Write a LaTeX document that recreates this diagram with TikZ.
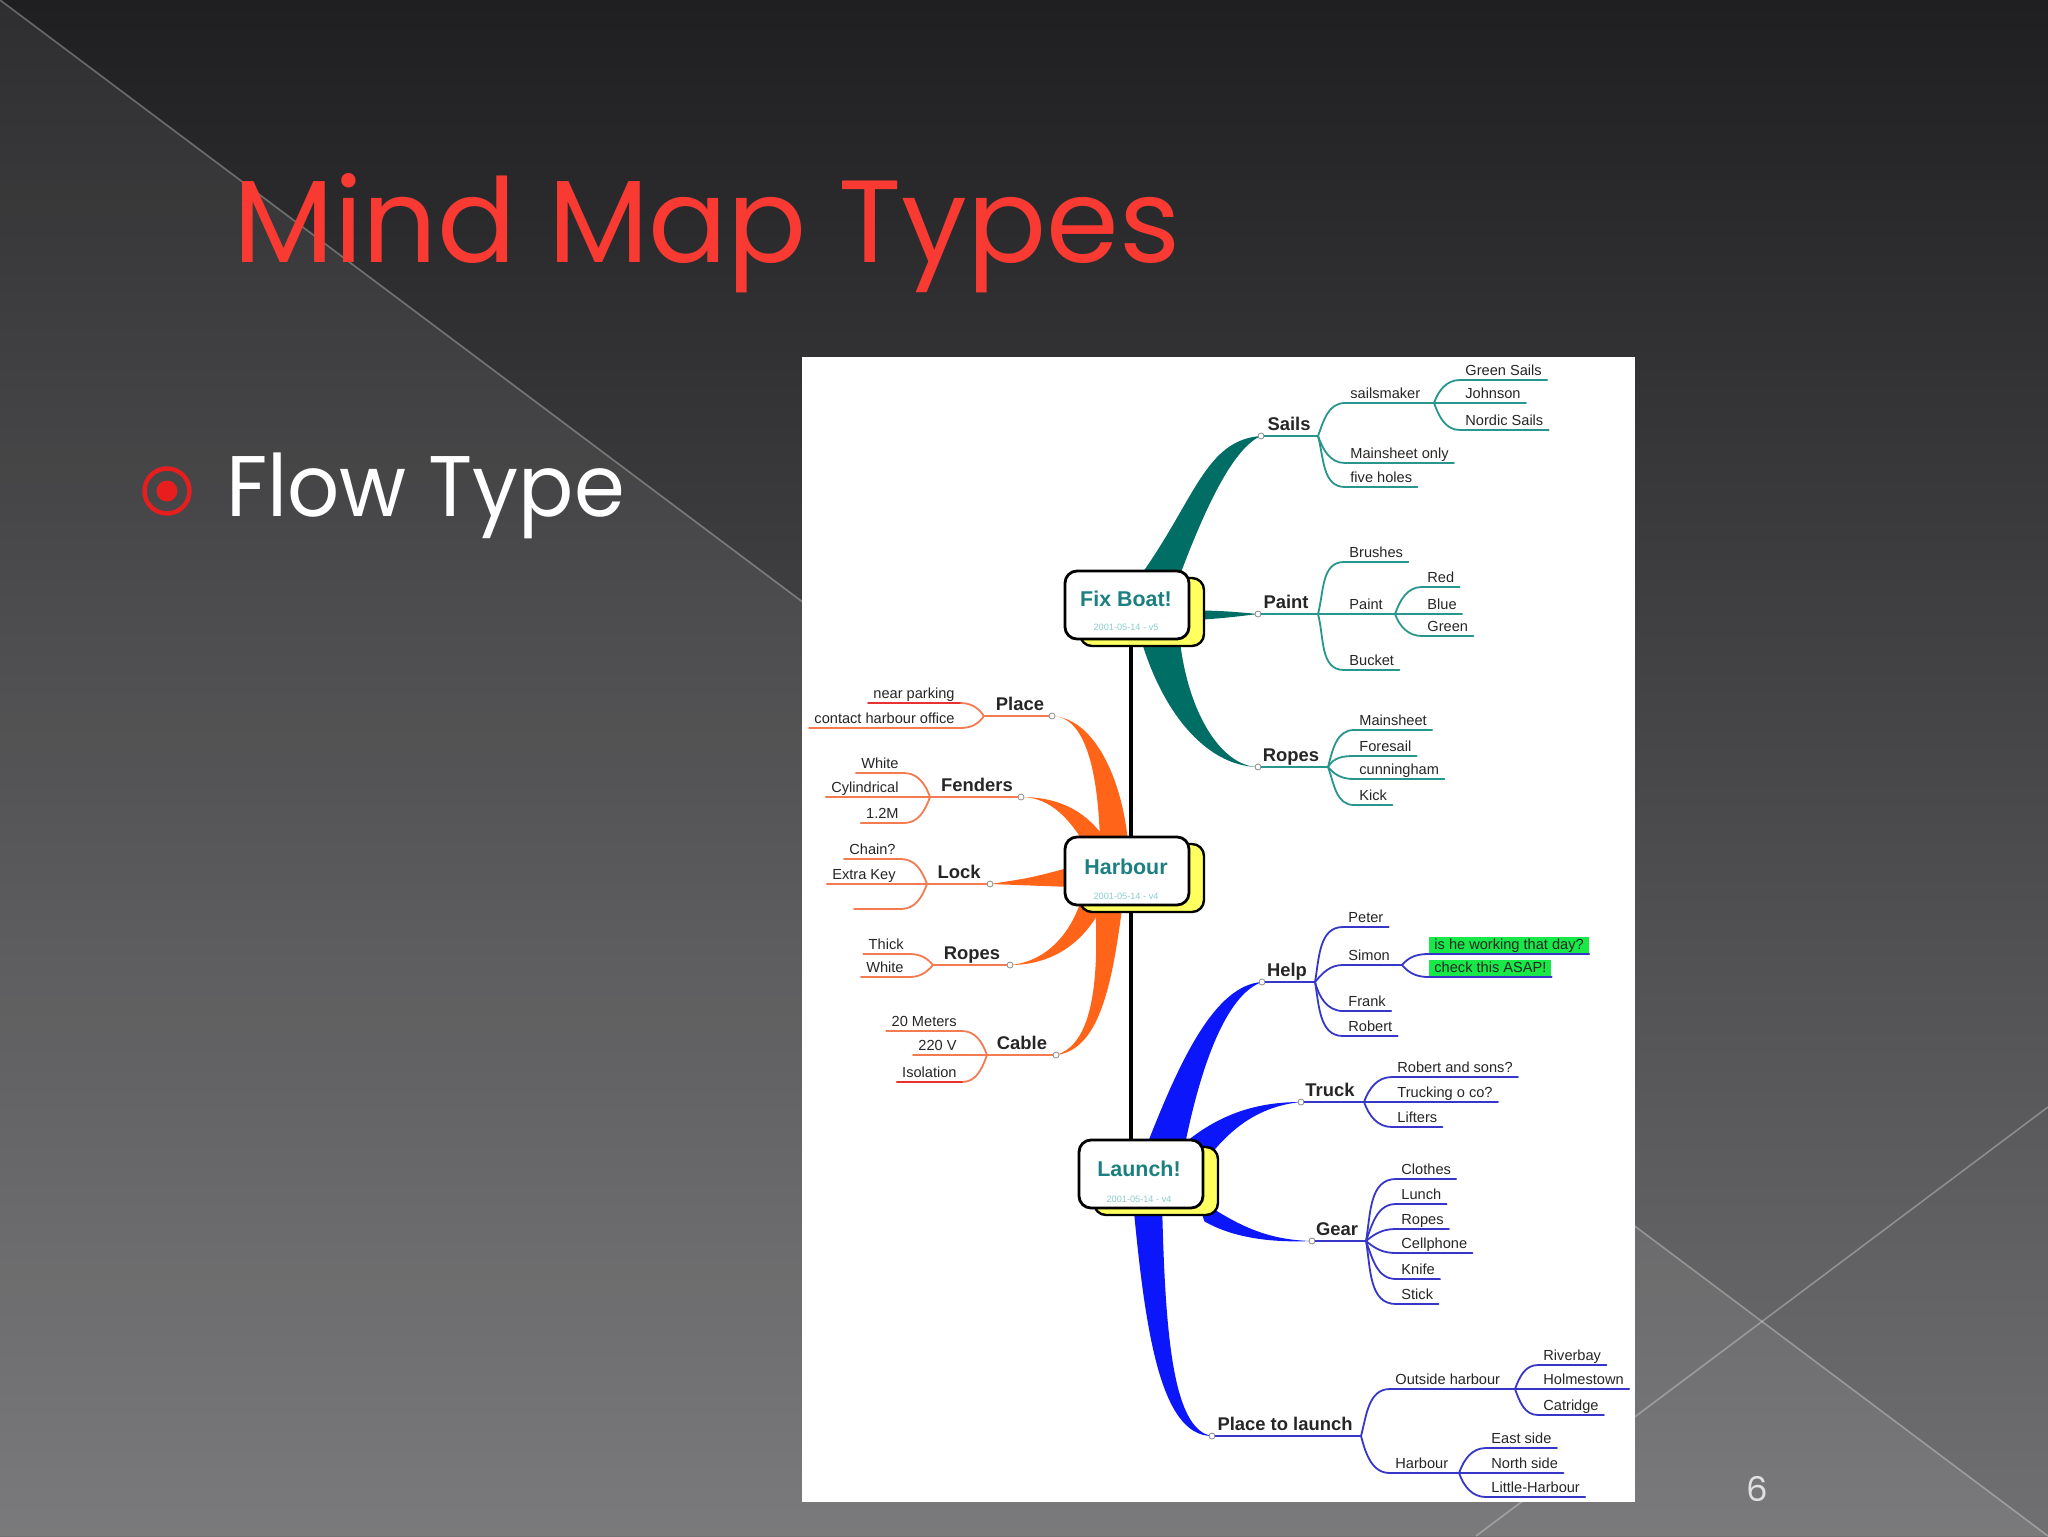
\documentclass[tikz,border=0pt]{standalone}
\usepackage{fontspec}
\usepackage{graphicx}
\setmainfont{Liberation Sans}
\newfontfamily\slidefont{Poppins}
\usetikzlibrary{shadows}
\pgfdeclarelayer{back}
\pgfsetlayers{back,main}

\begin{document}
\begin{tikzpicture}[x=0.5pt,y=-0.5pt,line join=round,line cap=round,
  topic/.style={draw=black,line width=1.4pt,fill=white,rounded corners=6pt,
    minimum width=62pt,minimum height=34pt,inner sep=0pt,
    copy shadow={fill=boxyellow,draw=black,line width=1.2pt,shadow xshift=7.5pt,shadow yshift=-3.5pt}},
  topictitle/.style={text=topicteal,font=\bfseries\fontsize{10.7}{12}\selectfont,inner sep=0pt},
  topicdate/.style={text=datecyan,font=\fontsize{4.6}{5}\selectfont,inner sep=0pt},
  branch/.style={anchor=south,text=ink,font=\bfseries\fontsize{9.2}{11}\selectfont,
    inner xsep=1pt,inner ysep=2.5pt,text height=6.7pt,text depth=0pt},
  leaf/.style={anchor=south west,text=ink,font=\fontsize{7.3}{8}\selectfont,
    inner xsep=2.5pt,inner ysep=0.8pt,text height=5.3pt,text depth=1.5pt},
  leafL/.style={leaf,anchor=south east},
  hilite/.style={leaf,fill=hilitegreen},
  knob/.style={circle,draw=black!45,fill=white,line width=0.4pt,inner sep=0pt,minimum size=3pt},
  tealleaf/.style={draw=leafteal,line width=0.9pt},
  orangeleaf/.style={draw=leaforange,line width=0.9pt},
  blueleaf/.style={draw=leafblue,line width=0.9pt},
  spellred/.style={draw=spellline,line width=0.9pt},
  spine/.style={draw=black,line width=2.4pt,line cap=butt}]
%%
\definecolor{slidetop}{RGB}{31,31,33}
\definecolor{slidemid}{RGB}{50,50,52}
\definecolor{slidebot}{RGB}{112,112,114}
\definecolor{titlered}{RGB}{248,58,50}
\definecolor{bulletred}{RGB}{232,30,30}
\definecolor{boxyellow}{RGB}{255,255,96}
\definecolor{topicteal}{RGB}{28,128,128}
\definecolor{datecyan}{RGB}{140,205,205}
\definecolor{ink}{RGB}{38,38,38}
\definecolor{trunkteal}{RGB}{0,110,100}
\definecolor{leafteal}{RGB}{40,150,140}
\definecolor{trunkorange}{RGB}{255,100,24}
\definecolor{leaforange}{RGB}{244,122,82}
\definecolor{spellline}{RGB}{232,50,50}
\definecolor{trunkblue}{RGB}{12,22,250}
\definecolor{leafblue}{RGB}{54,54,200}
\definecolor{hilitegreen}{RGB}{24,232,72}
\useasboundingbox (0,0) rectangle (2048,1536);
%% slide background
\begin{pgfonlayer}{back}
  \shade[top color=slidetop,middle color=slidemid,bottom color=slidebot] (0,0) rectangle (2048,1536);
  \fill[white,opacity=0.07] (0,0) -- (2048,1536) -- (0,1536) -- cycle;
  \draw[white,opacity=0.3,line width=0.8pt] (0,0) -- (2048,1536);
  \draw[white,opacity=0.3,line width=0.8pt] (2048,1107) -- (1476,1536);
  \fill[white] (802,357) rectangle (1635,1502);
\end{pgfonlayer}
%% slide texts
\node (title) at (233,262) [anchor=base west,inner sep=0pt,text=titlered,font=\slidefont\fontsize{58.5}{70}\selectfont] {Mind Map Types};
\node (bullet) at (167,491) [circle,draw=bulletred,line width=2.2pt,minimum size=22.5pt,inner sep=0pt] {};
\node (bulletdot) at (bullet.center) [circle,fill=bulletred,minimum size=10.5pt,inner sep=0pt] {};
\node (flow) at (226,516) [anchor=base west,inner sep=0pt,text=white,font=\slidefont\fontsize{43}{52}\selectfont] {\scalebox{0.95}[1]{Flow Type}};
\node (pagenum) at (1757,1489) [text=white!88!black,font=\slidefont\fontsize{17}{20}\selectfont] {6};
%% central topics
\node (fixboat) at (1127,605) [topic] {};
\node (fixboattitle) at (1126,599) [topictitle] {Fix Boat!};
\node (fixboatdate) at (1126,627) [topicdate] {2001-05-14 - v5};
\node (harbour) at (1127,871) [topic] {};
\node (harbourtitle) at (1126,867) [topictitle] {Harbour};
\node (harbourdate) at (1126,896) [topicdate] {2001-05-14 - v4};
\node (launch) at (1141,1174) [topic] {};
\node (launchtitle) at (1139,1169) [topictitle] {Launch!};
\node (launchdate) at (1139,1199) [topicdate] {2001-05-14 - v4};
%% knobs and junctions
\node (sailsK) at (1261,436) [knob] {};
\node (paintK) at (1258,614) [knob] {};
\node (ropesTK) at (1258,767) [knob] {};
\node (placeK) at (1052,716) [knob] {};
\node (fendersK) at (1021,797) [knob] {};
\node (lockK) at (990,884) [knob] {};
\node (ropesOK) at (1010,965) [knob] {};
\node (cableK) at (1056,1055) [knob] {};
\node (helpK) at (1262,982) [knob] {};
\node (truckK) at (1301,1102) [knob] {};
\node (gearK) at (1312,1241) [knob] {};
\node (ptlK) at (1212,1436) [knob] {};
\coordinate (sailsJ) at (1318,436);
\coordinate (sailsmakerJ) at (1434,403);
\coordinate (paintJ) at (1318,614);
\coordinate (paintsubJ) at (1395,614);
\coordinate (ropesTJ) at (1328,767);
\coordinate (placeJ) at (984,716);
\coordinate (fendersJ) at (930,797);
\coordinate (lockJ) at (927,884);
\coordinate (lockblankA) at (901,909);
\coordinate (lockblankB) at (854,909);
\coordinate (ropesOJ) at (933,965);
\coordinate (cableJ) at (987,1055);
\coordinate (helpJ) at (1315,982);
\coordinate (simonJ) at (1402,965);
\coordinate (truckJ) at (1364,1102);
\coordinate (gearJ) at (1366,1241);
\coordinate (ptlJ) at (1361,1436);
\coordinate (outsideJ) at (1515,1389);
\coordinate (harboursubJ) at (1459,1473);
%% trunks
\begin{pgfonlayer}{back}
  \fill[trunkteal] ([xshift=6pt,yshift=-4pt]fixboat.north) .. controls (1195,500) and (1205,440) .. (sailsK.center) .. controls (1235,447) and (1208,500) .. ([xshift=26pt,yshift=-4pt]fixboat.north) -- cycle;
  \fill[trunkteal] ([xshift=-4pt,yshift=-2.5pt]fixboat.east) .. controls (1225,611) .. (paintK.center) .. controls (1225,618) .. ([xshift=-4pt,yshift=-8pt]fixboat.east) -- cycle;
  \fill[trunkteal] ([xshift=6pt,yshift=4pt]fixboat.south) .. controls (1160,710) and (1205,766) .. (ropesTK.center) .. controls (1220,766) and (1186,710) .. ([xshift=26pt,yshift=4pt]fixboat.south) -- cycle;
  \fill[trunkorange] ([xshift=-13.5pt,yshift=-3pt]harbour.north) .. controls (1098,770) and (1085,716) .. (placeK.center) .. controls (1095,718) and (1122,780) .. ([xshift=0.5pt,yshift=-3pt]harbour.north) -- cycle;
  \fill[trunkorange] ([xshift=-22pt,yshift=-3pt]harbour.north) .. controls (1065,812) and (1045,797) .. (fendersK.center) .. controls (1055,797) and (1085,808) .. ([xshift=-10pt,yshift=-3pt]harbour.north) -- cycle;
  \fill[trunkorange] ([xshift=4pt,yshift=2pt]harbour.west) .. controls (1030,878) .. (lockK.center) .. controls (1030,886) .. ([xshift=4pt,yshift=-8pt]harbour.west) -- cycle;
  \fill[trunkorange] ([xshift=-23pt,yshift=3pt]harbour.south) .. controls (1070,935) and (1045,962) .. (ropesOK.center) .. controls (1050,965) and (1085,945) .. ([xshift=-11pt,yshift=3pt]harbour.south) -- cycle;
  \fill[trunkorange] ([xshift=-16pt,yshift=3pt]harbour.south) .. controls (1100,990) and (1090,1045) .. (cableK.center) .. controls (1098,1050) and (1112,990) .. ([xshift=-2pt,yshift=3pt]harbour.south) -- cycle;
  \fill[trunkblue] ([xshift=3pt,yshift=-3pt]launch.north) .. controls (1180,1060) and (1215,985) .. (helpK.center) .. controls (1225,995) and (1200,1070) .. ([xshift=22pt,yshift=-3pt]launch.north) -- cycle;
  \fill[trunkblue] ([xshift=-12pt,yshift=-4pt]launch.north east) .. controls (1220,1112) and (1260,1102) .. (truckK.center) .. controls (1262,1106) and (1232,1125) .. ([yshift=-12pt]launch.north east) -- cycle;
  \fill[trunkblue] ([xshift=-4pt,yshift=6pt]launch.south east) .. controls (1240,1228) and (1270,1240) .. (gearK.center) .. controls (1265,1243) and (1230,1236) .. ([yshift=-6pt]launch.south east) -- cycle;
  \fill[trunkblue] ([xshift=-4pt,yshift=4pt]launch.south) .. controls (1145,1330) and (1160,1436) .. (ptlK.center) .. controls (1172,1430) and (1165,1330) .. ([xshift=10.5pt,yshift=4pt]launch.south) -- cycle;
  \draw[spine] ([xshift=2pt]fixboat.south) -- ([xshift=-5pt]launch.north);
\end{pgfonlayer}
%% Fix Boat! branches
\node (sails) at (1289,436) [branch] {Sails};
\node (paint) at (1286,614) [branch] {Paint};
\node (ropesT) at (1291,767) [branch] {Ropes};
\draw[tealleaf] (sailsK) -- (sailsJ);
\draw[tealleaf] (paintK) -- (paintJ);
\draw[tealleaf] (ropesTK) -- (ropesTJ);
\node (sailsmaker) at (1345,403) [leaf] {sailsmaker};
\node (mainsheetonly) at (1345,463) [leaf] {Mainsheet only};
\node (fiveholes) at (1345,487) [leaf] {five holes};
\node (greensails) at (1460,380) [leaf] {Green Sails};
\node (johnson) at (1460,403) [leaf] {Johnson};
\node (nordicsails) at (1460,430) [leaf] {Nordic Sails};
\draw[tealleaf] (sailsJ) to[out=70,in=180] (sailsmaker.south west) -- (sailsmaker.south east) -- (sailsmakerJ);
\draw[tealleaf] (sailsJ) to[out=-70,in=180] (mainsheetonly.south west) -- (mainsheetonly.south east);
\draw[tealleaf] (sailsJ) to[out=-75,in=180] (fiveholes.south west) -- (fiveholes.south east);
\draw[tealleaf] (sailsmakerJ) to[out=70,in=180] (greensails.south west) -- (greensails.south east);
\draw[tealleaf] (sailsmakerJ) -- (johnson.south east);
\draw[tealleaf] (sailsmakerJ) to[out=-70,in=180] (nordicsails.south west) -- (nordicsails.south east);
\node (brushes) at (1344,562) [leaf] {Brushes};
\node (paintsub) at (1344,614) [leaf] {Paint};
\node (bucket) at (1344,670) [leaf] {Bucket};
\node (red) at (1422,587) [leaf] {Red};
\node (blue) at (1422,614) [leaf] {Blue};
\node (green) at (1422,636) [leaf] {Green};
\draw[tealleaf] (paintJ) to[out=75,in=180] (brushes.south west) -- (brushes.south east);
\draw[tealleaf] (paintJ) -- (paintsubJ);
\draw[tealleaf] (paintJ) to[out=-75,in=180] (bucket.south west) -- (bucket.south east);
\draw[tealleaf] (paintsubJ) to[out=70,in=180] (red.south west) -- (red.south east);
\draw[tealleaf] (paintsubJ) -- (blue.south east);
\draw[tealleaf] (paintsubJ) to[out=-70,in=180] (green.south west) -- (green.south east);
\node (mainsheet) at (1354,730) [leaf] {Mainsheet};
\node (foresail) at (1354,756) [leaf] {Foresail};
\node (cunningham) at (1354,779) [leaf] {cunningham};
\node (kick) at (1354,805) [leaf] {Kick};
\draw[tealleaf] (ropesTJ) to[out=75,in=180] (mainsheet.south west) -- (mainsheet.south east);
\draw[tealleaf] (ropesTJ) to[out=60,in=180] (foresail.south west) -- (foresail.south east);
\draw[tealleaf] (ropesTJ) to[out=-50,in=180] (cunningham.south west) -- (cunningham.south east);
\draw[tealleaf] (ropesTJ) to[out=-70,in=180] (kick.south west) -- (kick.south east);
%% Harbour branches
\node (place) at (1020,716) [branch] {Place};
\node (fenders) at (977,797) [branch] {Fenders};
\node (lock) at (959,884) [branch] {Lock};
\node (ropesO) at (972,965) [branch] {Ropes};
\node (cable) at (1022,1055) [branch] {Cable};
\draw[orangeleaf] (placeK) -- (placeJ);
\draw[orangeleaf] (fendersK) -- (fendersJ);
\draw[orangeleaf] (lockK) -- (lockJ);
\draw[orangeleaf] (ropesOK) -- (ropesOJ);
\draw[orangeleaf] (cableK) -- (cableJ);
\node (nearparking) at (960,703) [leafL] {near parking};
\node (contactoffice) at (960,728) [leafL] {contact harbour office};
\draw[orangeleaf] (placeJ) to[out=125,in=0] (nearparking.south east);
\draw[spellred] (nearparking.south east) -- (nearparking.south west);
\draw[orangeleaf] (placeJ) to[out=235,in=0] (contactoffice.south east) -- (contactoffice.south west);
\node (whiteF) at (904,773) [leafL] {White};
\node (cylindrical) at (904,797) [leafL] {Cylindrical};
\node (onetwom) at (904,823) [leafL] {1.2M};
\draw[orangeleaf] (fendersJ) to[out=110,in=0] (whiteF.south east) -- (whiteF.south west);
\draw[orangeleaf] (fendersJ) -- (cylindrical.south west);
\draw[orangeleaf] (fendersJ) to[out=250,in=0] (onetwom.south east) -- (onetwom.south west);
\node (chain) at (901,859) [leafL] {Chain?};
\node (extrakey) at (901,884) [leafL] {Extra Key};
\draw[orangeleaf] (lockJ) to[out=110,in=0] (chain.south east) -- (chain.south west);
\draw[orangeleaf] (lockJ) -- (extrakey.south west);
\draw[orangeleaf] (lockJ) to[out=250,in=0] (lockblankA) -- (lockblankB);
\node (thick) at (909,954) [leafL] {Thick};
\node (whiteR) at (909,977) [leafL] {White};
\draw[orangeleaf] (ropesOJ) to[out=130,in=0] (thick.south east) -- (thick.south west);
\draw[orangeleaf] (ropesOJ) to[out=230,in=0] (whiteR.south east) -- (whiteR.south west);
\node (twentym) at (962,1031) [leafL] {20 Meters};
\node (twotwenty) at (962,1055) [leafL] {220 V};
\node (isolation) at (962,1082) [leafL] {Isolation};
\draw[orangeleaf] (cableJ) to[out=110,in=0] (twentym.south east) -- (twentym.south west);
\draw[orangeleaf] (cableJ) -- (twotwenty.south west);
\draw[orangeleaf] (cableJ) to[out=250,in=0] (isolation.south east);
\draw[spellred] (isolation.south east) -- (isolation.south west);
%% Launch! branches
\node (help) at (1287,982) [branch] {Help};
\node (truck) at (1330,1102) [branch] {Truck};
\node (gear) at (1337,1241) [branch] {Gear};
\node (ptl) at (1285,1436) [branch] {Place to launch};
\draw[blueleaf] (helpK) -- (helpJ);
\draw[blueleaf] (truckK) -- (truckJ);
\draw[blueleaf] (gearK) -- (gearJ);
\draw[blueleaf] (ptlK) -- (ptlJ);
\node (peter) at (1343,927) [leaf] {Peter};
\node (simon) at (1343,965) [leaf] {Simon};
\node (frank) at (1343,1011) [leaf] {Frank};
\node (robert) at (1343,1036) [leaf] {Robert};
\node (workday) at (1429,954) [hilite] {is he working that day?};
\node (asap) at (1429,977) [hilite] {check this ASAP!};
\draw[blueleaf] (helpJ) to[out=80,in=180] (peter.south west) -- (peter.south east);
\draw[blueleaf] (helpJ) to[out=50,in=180] (simon.south west) -- (simon.south east) -- (simonJ);
\draw[blueleaf] (helpJ) to[out=-75,in=180] (frank.south west) -- (frank.south east);
\draw[blueleaf] (helpJ) to[out=-80,in=180] (robert.south west) -- (robert.south east);
\draw[blueleaf] (simonJ) to[out=50,in=180] (workday.south west) -- (workday.south east);
\draw[blueleaf] (simonJ) to[out=-50,in=180] (asap.south west) -- (asap.south east);
\node (robertsons) at (1392,1077) [leaf] {Robert and sons?};
\node (trucking) at (1392,1102) [leaf] {Trucking o co?};
\node (lifters) at (1392,1127) [leaf] {Lifters};
\draw[blueleaf] (truckJ) to[out=70,in=180] (robertsons.south west) -- (robertsons.south east);
\draw[blueleaf] (truckJ) -- (trucking.south east);
\draw[blueleaf] (truckJ) to[out=-70,in=180] (lifters.south west) -- (lifters.south east);
\node (clothes) at (1396,1179) [leaf] {Clothes};
\node (lunch) at (1396,1204) [leaf] {Lunch};
\node (ropesG) at (1396,1229) [leaf] {Ropes};
\node (cellphone) at (1396,1253) [leaf] {Cellphone};
\node (knife) at (1396,1279) [leaf] {Knife};
\node (stick) at (1396,1304) [leaf] {Stick};
\draw[blueleaf] (gearJ) to[out=80,in=180] (clothes.south west) -- (clothes.south east);
\draw[blueleaf] (gearJ) to[out=70,in=180] (lunch.south west) -- (lunch.south east);
\draw[blueleaf] (gearJ) to[out=40,in=180] (ropesG.south west) -- (ropesG.south east);
\draw[blueleaf] (gearJ) to[out=-40,in=180] (cellphone.south west) -- (cellphone.south east);
\draw[blueleaf] (gearJ) to[out=-70,in=180] (knife.south west) -- (knife.south east);
\draw[blueleaf] (gearJ) to[out=-80,in=180] (stick.south west) -- (stick.south east);
\node (outside) at (1390,1389) [leaf] {Outside harbour};
\node (harboursub) at (1390,1473) [leaf] {Harbour};
\draw[blueleaf] (ptlJ) to[out=75,in=180] (outside.south west) -- (outside.south east) -- (outsideJ);
\draw[blueleaf] (ptlJ) to[out=-75,in=180] (harboursub.south west) -- (harboursub.south east) -- (harboursubJ);
\node (riverbay) at (1538,1365) [leaf] {Riverbay};
\node (holmestown) at (1538,1389) [leaf] {Holmestown};
\node (catridge) at (1538,1415) [leaf] {Catridge};
\draw[blueleaf] (outsideJ) to[out=70,in=180] (riverbay.south west) -- (riverbay.south east);
\draw[blueleaf] (outsideJ) -- (holmestown.south east);
\draw[blueleaf] (outsideJ) to[out=-70,in=180] (catridge.south west) -- (catridge.south east);
\node (eastside) at (1486,1448) [leaf] {East side};
\node (northside) at (1486,1473) [leaf] {North side};
\node (littleharbour) at (1486,1497) [leaf] {Little-Harbour};
\draw[blueleaf] (harboursubJ) to[out=70,in=180] (eastside.south west) -- (eastside.south east);
\draw[blueleaf] (harboursubJ) -- (northside.south east);
\draw[blueleaf] (harboursubJ) to[out=-70,in=180] (littleharbour.south west) -- (littleharbour.south east);
%
\end{tikzpicture}
\end{document}
